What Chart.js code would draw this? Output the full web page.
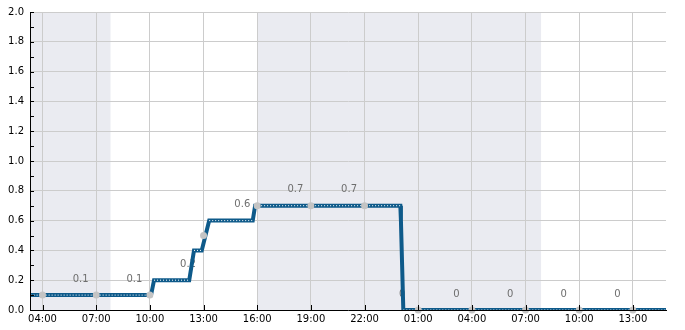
<!DOCTYPE html>
<html>
<head>
<meta charset="utf-8">
<script src="https://cdn.jsdelivr.net/npm/chart.js@4.4.0/dist/chart.umd.min.js"></script>
<style>
  html, body { margin: 0; padding: 0; background: #fff; }
</style>
</head>
<body>
<canvas id="c" width="685" height="330"></canvas>
<script>
// times are written "day HH:MM", day 0 is the first day shown
var lineTimes  = ['0 03:00','0 10:04','0 10:14','0 12:12','0 12:28','0 12:54','0 13:19','0 15:45','0 15:53','1 00:00','1 00:02','1 00:06','1 00:10','1 15:00'];
var lineValues = [0.1, 0.1, 0.2, 0.2, 0.4, 0.4, 0.6, 0.6, 0.7, 0.7, 0.6, 0.3, 0, 0];

var pointTimes  = ['0 04:00','0 07:00','0 10:00','0 13:00','0 16:00','0 19:00','0 22:00','1 01:00','1 04:00','1 07:00','1 10:00','1 13:00'];
var pointValues = [0.1, 0.1, 0.1, 0.5, 0.7, 0.7, 0.7, 0, 0, 0, 0, 0];

var labelTimes  = ['0 06:08','0 09:08','0 12:08','0 15:10','0 18:08','0 21:08','1 00:06','1 03:08','1 06:08','1 09:08','1 12:08'];
var labelValues = [0.1, 0.1, 0.2, 0.6, 0.7, 0.7, 0, 0, 0, 0, 0];

var nightStart = ['0 03:00','0 16:00'];
var nightEnd   = ['0 07:48','1 07:52'];

var tickTimes = ['0 04:00','0 07:00','0 10:00','0 13:00','0 16:00','0 19:00','0 22:00','1 01:00','1 04:00','1 07:00','1 10:00','1 13:00'];
var xStart = '0 03:18', xEnd = '1 14:51';

function hrs(s) {
    var p = s.split(' '), hm = p[1].split(':');
    return (+p[0]) * 24 + (+hm[0]) + (+hm[1]) / 60;
}
function fmtHour(v) {
    var h = Math.round(v) % 24;
    return (h < 10 ? '0' : '') + h + ':00';
}

var lineData = lineTimes.map(function(t, i){ return {x: hrs(t), y: lineValues[i]}; });
var pointData = pointTimes.map(function(t, i){ return {x: hrs(t), y: pointValues[i]}; });

var blue = '#0e5a8a';
var font = {family: 'DejaVu Sans', size: 10};

var extras = {
    id: 'extras',
    beforeDraw: function(chart) {
        var ctx = chart.ctx, a = chart.chartArea, xs = chart.scales.x;
        ctx.save();
        ctx.fillStyle = '#eaebf1';
        for (var i = 0; i < nightStart.length; i++) {
            var x0 = Math.max(a.left, xs.getPixelForValue(hrs(nightStart[i])));
            var x1 = Math.min(a.right, xs.getPixelForValue(hrs(nightEnd[i])));
            ctx.fillRect(x0, a.top, x1 - x0, a.bottom - a.top);
        }
        ctx.restore();
    },
    beforeDatasetsDraw: function(chart) {
        var ctx = chart.ctx, xs = chart.scales.x, ys = chart.scales.y;
        ctx.save();
        ctx.fillStyle = '#6e6e6e';
        ctx.font = '10px "DejaVu Sans"';
        ctx.textAlign = 'center';
        ctx.textBaseline = 'middle';
        for (var i = 0; i < labelTimes.length; i++) {
            ctx.fillText(String(labelValues[i]), xs.getPixelForValue(hrs(labelTimes[i])), ys.getPixelForValue(labelValues[i]) - 16);
        }
        ctx.restore();
    },
    afterDraw: function(chart) {
        // little tick marks pointing into the plot
        var ctx = chart.ctx, a = chart.chartArea, xs = chart.scales.x, ys = chart.scales.y;
        ctx.save();
        ctx.strokeStyle = '#000';
        ctx.lineWidth = 1;
        ctx.beginPath();
        for (var i = 0; i <= 20; i++) {
            var y = Math.round(ys.getPixelForValue(i / 10)) + 0.5;
            ctx.moveTo(a.left, y); ctx.lineTo(a.left + 4, y);
        }
        tickTimes.forEach(function(t){
            var x = Math.round(xs.getPixelForValue(hrs(t))) + 0.5;
            ctx.moveTo(x, a.bottom); ctx.lineTo(x, a.bottom - 5);
        });
        ctx.stroke();
        ctx.restore();
    }
};

new Chart(document.getElementById('c'), {
    type: 'line',
    data: {
        datasets: [
            {
                label: 'points',
                data: pointData,
                showLine: false,
                pointRadius: 3.5,
                pointBackgroundColor: '#c4c4c4',
                pointBorderWidth: 0,
                clip: false
            },
            {
                label: 'dots',
                data: lineData,
                borderColor: '#ffffff',
                borderWidth: 1,
                borderDash: [1, 2],
                pointRadius: 0,
                clip: 0,
                segment: {
                    borderColor: function(c) { return c.p0.parsed.y === c.p1.parsed.y ? '#ffffff' : 'rgba(0,0,0,0)'; }
                }
            },
            {
                label: 'line',
                data: lineData,
                borderColor: blue,
                borderWidth: 4,
                pointRadius: 0,
                clip: 0
            }
        ]
    },
    options: {
        responsive: false,
        animation: false,
        layout: {padding: {top: 10, right: 19, left: 0, bottom: 0}},
        plugins: {legend: {display: false}, tooltip: {enabled: false}},
        scales: {
            x: {
                type: 'linear',
                min: hrs(xStart),
                max: hrs(xEnd),
                afterBuildTicks: function(s) { s.ticks = tickTimes.map(function(t){ return {value: hrs(t)}; }); },
                afterFit: function(s) { s.height = 20; },
                ticks: {callback: function(v){ return fmtHour(v); }, color: '#000', font: font, padding: 3, maxRotation: 0, autoSkip: false},
                grid: {color: '#cccccc', drawTicks: false},
                border: {color: '#000', width: 1, z: 1}
            },
            y: {
                min: 0,
                max: 2,
                afterFit: function(s) { s.width = 30; },
                ticks: {stepSize: 0.2, callback: function(v){ return v.toFixed(1); }, color: '#000', font: font, padding: 6},
                grid: {color: '#cccccc', drawTicks: false},
                border: {color: '#000', width: 1, z: 1}
            }
        }
    },
    plugins: [extras]
});
</script>
</body>
</html>
